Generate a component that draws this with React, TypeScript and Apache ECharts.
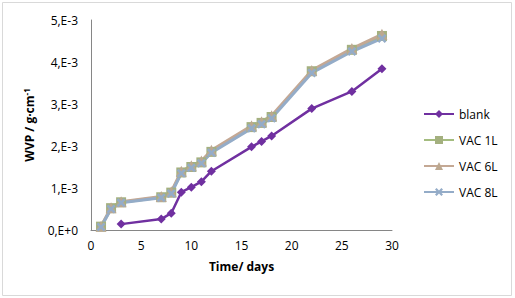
import React, { useEffect, useRef } from "react";
import * as echarts from "echarts";

const blankDays = [3, 7, 8, 9, 10, 11, 12, 16, 17, 18, 22, 26, 29];
const blankValues = [0.14, 0.26, 0.4, 0.9, 1.02, 1.15, 1.4, 1.98, 2.11, 2.24, 2.89, 3.3, 3.84];

const vacDays = [1, 2, 3, 7, 8, 9, 10, 11, 12, 16, 17, 18, 22, 26, 29];
const vac1L = [0.08, 0.52, 0.66, 0.78, 0.89, 1.37, 1.5, 1.61, 1.86, 2.45, 2.55, 2.69, 3.78, 4.29, 4.62];
const vac6L = [0.09, 0.53, 0.67, 0.8, 0.91, 1.4, 1.53, 1.64, 1.9, 2.48, 2.58, 2.72, 3.8, 4.32, 4.66];
const vac8L = [0.07, 0.5, 0.65, 0.77, 0.87, 1.35, 1.48, 1.59, 1.84, 2.42, 2.52, 2.66, 3.74, 4.25, 4.56];

const yTickLabels = ["0,E+0", "1,E-3", "2,E-3", "3,E-3", "4,E-3", "5,E-3"];

const seriesNames = ["blank", "VAC 1L", "VAC 6L", "VAC 8L"];

const xSymbol = "path://M2,0 L5,3 L8,0 L10,2 L7,5 L10,8 L8,10 L5,7 L2,10 L0,8 L3,5 L0,2 Z";

function pairs(xs: number[], ys: number[]) {
  return xs.map((x, i) => [x, ys[i] / 1000]);
}

export default function App() {
  const ref = useRef<HTMLDivElement>(null);
  useEffect(() => {
    if (!ref.current) return;
    const chart = echarts.init(ref.current, null, { renderer: "svg" });
    const font = "'Open Sans', 'Liberation Sans', sans-serif";
    chart.setOption({
      animation: false,
      backgroundColor: "#ffffff",
      textStyle: { fontFamily: font },
      graphic: [
        {
          type: "rect",
          shape: { x: 2.5, y: 2.5, width: 509, height: 293 },
          style: { fill: "none", stroke: "#d9d9d9", lineWidth: 1 },
          silent: true,
        },
      ],
      grid: { left: 91, right: 123, top: 20, bottom: 68 },
      legend: {
        orient: "vertical",
        left: 418,
        top: 103,
        itemWidth: 30,
        itemHeight: 10,
        itemGap: 14,
        textStyle: { fontSize: 12, color: "#000", fontFamily: font },
        data: seriesNames,
      },
      xAxis: {
        type: "value",
        min: 0,
        max: 30,
        interval: 5,
        name: "Time/ days",
        nameLocation: "middle",
        nameGap: 30,
        nameTextStyle: { fontSize: 12, fontWeight: "bold", color: "#000", fontFamily: font },
        axisLine: { lineStyle: { color: "#868686", width: 1 } },
        axisTick: { show: false },
        splitLine: { show: false },
        axisLabel: { fontSize: 12, color: "#000", margin: 9, fontFamily: font },
      },
      yAxis: {
        type: "value",
        min: 0,
        max: 0.005,
        interval: 0.001,
        name: "WVP / g·cm{sup|-1}",
        nameLocation: "middle",
        nameGap: 55,
        nameRotate: 90,
        nameTextStyle: {
          fontSize: 12,
          fontWeight: "bold",
          color: "#000",
          fontFamily: font,
          rich: {
            sup: { fontSize: 8, fontWeight: "bold", verticalAlign: "top", padding: [0, 0, 6, 0], fontFamily: font },
          },
        },
        axisLine: { show: true, lineStyle: { color: "#868686", width: 1 } },
        axisTick: { show: false },
        splitLine: { show: false },
        axisLabel: {
          fontSize: 12,
          color: "#000",
          margin: 13,
          fontFamily: font,
          formatter: (v: number) => yTickLabels[Math.round(v * 1000)] ?? "",
        },
      },
      series: [
        {
          name: "blank",
          type: "line",
          data: pairs(blankDays, blankValues),
          symbol: "diamond",
          symbolSize: 9,
          color: "#7030a0",
          lineStyle: { width: 2.5, color: "#7030a0" },
          itemStyle: { color: "#7030a0" },
        },
        {
          name: "VAC 1L",
          type: "line",
          data: pairs(vacDays, vac1L),
          symbol: "rect",
          symbolSize: 10,
          color: "#a4bc7f",
          lineStyle: { width: 3, color: "#a4bc7f" },
          itemStyle: { color: "#a4b07f" },
        },
        {
          name: "VAC 6L",
          type: "line",
          data: pairs(vacDays, vac6L),
          symbol: "triangle",
          symbolSize: 11,
          color: "#c4a894",
          lineStyle: { width: 3, color: "#c4a894" },
          itemStyle: { color: "#bca890" },
        },
        {
          name: "VAC 8L",
          type: "line",
          data: pairs(vacDays, vac8L),
          symbol: xSymbol,
          symbolSize: 9,
          color: "#94acc8",
          lineStyle: { width: 3, color: "#94acc8" },
          itemStyle: { color: "#94acc8" },
        },
      ],
    });
    return () => chart.dispose();
  }, []);
  return (
    <div
      ref={ref}
      style={{ position: "fixed", left: 0, top: 0, width: 515, height: 298 }}
    />
  );
}
